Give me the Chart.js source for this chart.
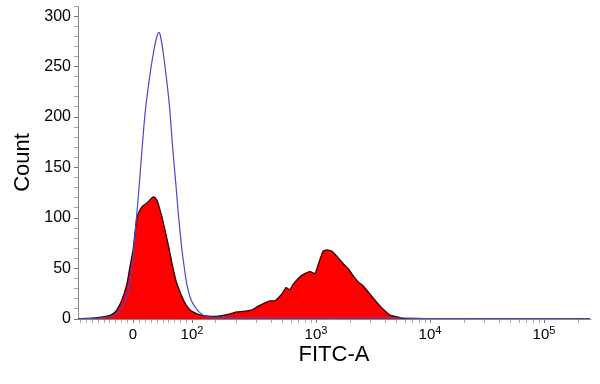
<!DOCTYPE html>
<html>
<head>
<meta charset="utf-8">
<script src="https://cdn.jsdelivr.net/npm/chart.js@4/dist/chart.umd.min.js"></script>
<style>
  html, body { margin: 0; padding: 0; background: #fff; }
  #wrap { width: 600px; height: 384px; }
</style>
</head>
<body>
<div id="wrap"><canvas id="histo"></canvas></div>
<script>
"use strict";

// FITC-A histogram, x is the position on the 0-512 biexponential display scale
const redChannel = [0, 7, 17, 25, 32, 36, 39, 44, 49, 52, 55, 57, 59, 62, 64, 69, 74, 76, 78, 80,
    82, 84, 87, 91, 94, 98, 104, 108, 112, 117, 122, 128, 132, 142, 152, 159, 169, 174, 179, 185,
    192, 197, 204, 208, 212, 215, 220, 225, 232, 237, 240, 245, 249, 254, 259, 265, 270, 275, 280,
    285, 290, 295, 302, 307, 312, 319, 325, 330, 512];
const redCount = [0, 0.5, 1, 2, 3.5, 6, 9, 19, 35, 52, 68, 85, 101, 108, 111, 115, 120, 121, 119, 115,
    108, 101, 88, 70, 55, 38, 22, 14, 9, 6, 4, 3, 2.5, 3, 5, 7, 8, 9, 12, 15,
    18, 18, 25, 31, 29, 34, 40, 44, 47, 45, 53, 67, 68.5, 67, 62, 55, 50, 43, 37,
    33, 27, 21, 13, 8, 4, 2, 0.5, 0, 0];

const blueChannel = [0, 12, 22, 30, 37, 42, 47, 52, 55, 57, 59, 61, 63, 65, 67, 69, 71, 73, 75, 77,
    79, 80.5, 82, 84, 86, 88, 90, 92, 94, 96, 98, 100, 102, 104, 106, 108, 110, 113, 117, 121,
    125, 132, 142, 160, 250, 330, 350, 512];
const blueCount = [0, 0.5, 1, 2, 4, 8, 17, 36, 62, 84, 106, 130, 155, 180, 203, 220, 235, 249, 261, 272,
    280, 284, 282, 272, 258, 242, 225, 205, 178, 154, 132, 108, 87, 68, 53, 39, 29, 19, 12, 7,
    4, 2, 1.5, 1, 1, 1, 0.5, 0];

// x axis ticks (display scale positions) and their labels
const xMajorTicks = [55, 114, 238, 352, 466];
const xMajorBase = ["0", "10", "10", "10", "10"];
const xMajorExp = ["", "2", "3", "4", "5"];
const xMinorTicks = [2, 8, 14, 20, 26, 31, 37, 43, 49, 61, 67, 73, 79, 85, 90, 96, 102, 108,
    137, 158, 178, 193, 204, 213, 220, 227, 233,
    272, 292, 307, 318, 327, 334, 341, 347,
    386, 406, 421, 432, 441, 448, 455, 461, 500];

const yMax = 310;
const FONT = "'Liberation Sans', Arial, sans-serif";

// draws "10" with a raised exponent under each major x tick
const powerLabels = {
    id: "powerLabels",
    afterDraw(chart) {
        const ctx = chart.ctx;
        const xs = chart.scales.x;
        const baseY = xs.top + 20;
        ctx.save();
        ctx.fillStyle = "#000";
        ctx.textBaseline = "alphabetic";
        ctx.textAlign = "left";
        xMajorTicks.forEach((v, i) => {
            const px = xs.getPixelForValue(v);
            ctx.font = "15px " + FONT;
            const wb = ctx.measureText(xMajorBase[i]).width;
            ctx.font = "11px " + FONT;
            const we = xMajorExp[i] ? ctx.measureText(xMajorExp[i]).width : 0;
            const left = px - (wb + we) / 2;
            ctx.font = "15px " + FONT;
            ctx.fillText(xMajorBase[i], left, baseY);
            if (xMajorExp[i]) {
                ctx.font = "11px " + FONT;
                ctx.fillText(xMajorExp[i], left + wb, baseY - 5);
            }
        });
        ctx.restore();
    }
};

const toPoints = (xs, ys) => xs.map((x, i) => ({ x: x, y: ys[i] }));

const ctx = document.getElementById("histo").getContext("2d");
const histo = new Chart(ctx, {
    type: "line",
    data: {
        datasets: [
            {
                label: "Control",
                data: toPoints(blueChannel, blueCount),
                borderColor: "#4848cc",
                borderWidth: 1.2,
                fill: false,
                pointRadius: 0,
                cubicInterpolationMode: "monotone",
                order: 1
            },
            {
                label: "Stained",
                data: toPoints(redChannel, redCount),
                borderColor: "#2a0000",
                borderWidth: 1.3,
                backgroundColor: "#ff0000",
                fill: "origin",
                pointRadius: 0,
                tension: 0.15,
                order: 2
            }
        ]
    },
    options: {
        responsive: true,
        maintainAspectRatio: false,
        animation: false,
        layout: { padding: { top: 6, right: 10, left: 0, bottom: 0 } },
        plugins: { legend: { display: false }, tooltip: { enabled: false } },
        scales: {
            x: {
                type: "linear",
                min: 0,
                max: 512,
                afterBuildTicks: (axis) => {
                    axis.ticks = xMajorTicks.concat(xMinorTicks)
                        .sort((a, b) => a - b)
                        .map(v => ({ value: v }));
                },
                afterFit: (scale) => {
                    scale.height = 65;
                    scale.paddingLeft = 0;
                    scale.paddingRight = 0;
                },
                ticks: { autoSkip: false, maxRotation: 0, callback: () => "" },
                grid: {
                    display: true,
                    drawOnChartArea: false,
                    drawTicks: true,
                    tickLength: 4,
                    tickColor: (c) => xMajorTicks.includes(c.tick.value) ? "#777" : "#aaa"
                },
                border: { display: true, color: "#888" },
                title: {
                    display: true,
                    text: "FITC-A",
                    color: "#000",
                    font: { family: FONT, size: 22 },
                    padding: { top: 0, bottom: 16 }
                }
            },
            y: {
                min: 0,
                max: yMax,
                afterFit: (scale) => {
                    scale.width = 78;
                    scale.paddingTop = 0;
                    scale.paddingBottom = 0;
                },
                ticks: {
                    stepSize: 10,
                    autoSkip: false,
                    padding: 3,
                    color: "#000",
                    font: { family: FONT, size: 16 },
                    callback: (v) => v % 50 === 0 ? v : ""
                },
                grid: {
                    display: true,
                    drawOnChartArea: false,
                    drawTicks: true,
                    tickLength: 4,
                    tickColor: (c) => c.tick.value % 50 === 0 ? "#777" : "#aaa"
                },
                border: { display: true, color: "#888" },
                title: {
                    display: true,
                    text: "Count",
                    color: "#000",
                    font: { family: FONT, size: 22 },
                    padding: { top: 10, bottom: 0 }
                }
            }
        }
    },
    plugins: [powerLabels]
});
</script>
</body>
</html>
